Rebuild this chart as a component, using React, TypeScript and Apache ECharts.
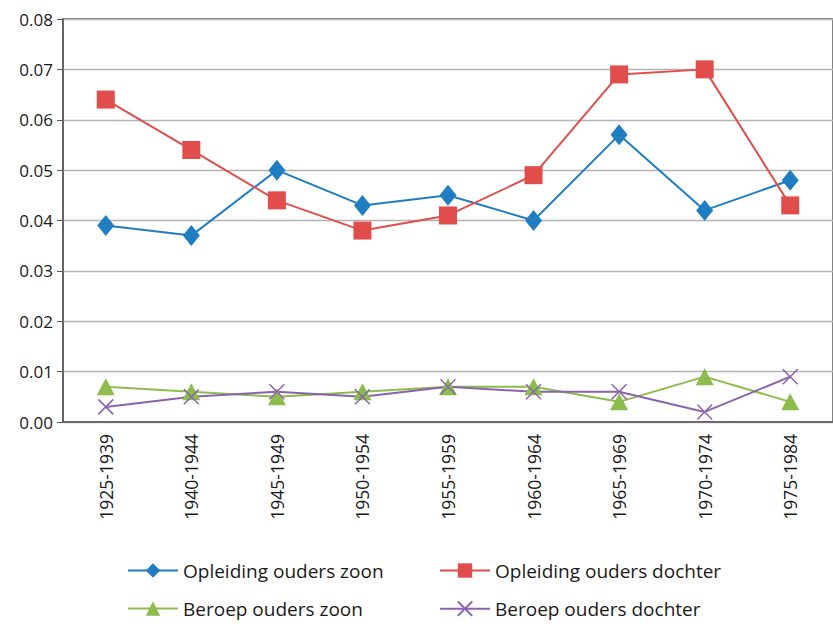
import React, { useEffect, useRef } from "react";
import * as echarts from "echarts";

const categories = ["1925-1939", "1940-1944", "1945-1949", "1950-1954", "1955-1959", "1960-1964", "1965-1969", "1970-1974", "1975-1984"];
const opleidingZoon = [0.039, 0.037, 0.05, 0.043, 0.045, 0.04, 0.057, 0.042, 0.048];
const opleidingDochter = [0.064, 0.054, 0.044, 0.038, 0.041, 0.049, 0.069, 0.07, 0.043];
const beroepZoon = [0.007, 0.006, 0.005, 0.006, 0.007, 0.007, 0.004, 0.009, 0.004];
const beroepDochter = [0.003, 0.005, 0.006, 0.005, 0.007, 0.006, 0.006, 0.002, 0.009];
const seriesNames = ["Opleiding ouders zoon", "Opleiding ouders dochter", "Beroep ouders zoon", "Beroep ouders dochter"];

const BLUE = "#1f7dc1";
const RED = "#e04d4a";
const GREEN = "#8cbd4c";
const PURPLE = "#8b63ad";
const FONT = "'Open Sans', 'Noto Sans', sans-serif";
const CROSS = "path://M0,0L10,10M10,0L0,10";

export default function App() {
  const ref = useRef<HTMLDivElement>(null);
  useEffect(() => {
    if (!ref.current) return;
    const chart = echarts.init(ref.current, undefined, { renderer: "svg" });
    const legendText = { fontSize: 19, color: "#1a1a1a", fontFamily: FONT };
    const mkLegend = (name: string, left: number, top: number) => ({
      data: [name],
      left,
      top,
      itemWidth: 50,
      itemHeight: 18,
      itemGap: 0,
      padding: 0,
      textStyle: legendText,
      selectedMode: false,
    });
    chart.setOption({
      animation: false,
      backgroundColor: "#ffffff",
      grid: { left: 63, top: 19, width: 775, bottom: 202, containLabel: false, show: true, borderColor: "#5a5a5a", borderWidth: 1.5 },
      legend: [
        mkLegend(seriesNames[0], 127, 561),
        mkLegend(seriesNames[1], 439, 561),
        mkLegend(seriesNames[2], 127, 599),
        mkLegend(seriesNames[3], 439, 599),
      ],
      xAxis: {
        type: "category",
        data: categories,
        boundaryGap: true,
        axisLine: { lineStyle: { color: "#5a5a5a", width: 1.5 } },
        axisTick: { show: false },
        axisLabel: { rotate: 90, fontSize: 17.5, color: "#1a1a1a", fontFamily: FONT, margin: 12 },
      },
      yAxis: {
        type: "value",
        min: 0,
        max: 0.08,
        interval: 0.01,
        axisLine: { show: true, lineStyle: { color: "#5a5a5a", width: 1.5 } },
        axisTick: { show: true, length: 6, lineStyle: { color: "#5a5a5a" } },
        axisLabel: { fontSize: 17, color: "#1a1a1a", fontFamily: FONT, margin: 10, formatter: (v: number) => v.toFixed(2) },
        splitLine: { lineStyle: { color: "#b3b3b3", width: 1.3 } },
      },
      series: [
        {
          name: seriesNames[0],
          type: "line",
          data: opleidingZoon,
          symbol: "diamond",
          symbolSize: [17, 21],
          lineStyle: { color: BLUE, width: 2 },
          itemStyle: { color: BLUE },
        },
        {
          name: seriesNames[1],
          type: "line",
          data: opleidingDochter,
          symbol: "rect",
          symbolSize: 18,
          lineStyle: { color: RED, width: 2 },
          itemStyle: { color: RED },
        },
        {
          name: seriesNames[2],
          type: "line",
          data: beroepZoon,
          symbol: "triangle",
          symbolSize: [18, 17],
          lineStyle: { color: GREEN, width: 2 },
          itemStyle: { color: GREEN },
        },
        {
          name: seriesNames[3],
          type: "line",
          data: beroepDochter,
          symbol: CROSS,
          symbolSize: 15,
          lineStyle: { color: PURPLE, width: 2 },
          itemStyle: { color: "none", borderColor: PURPLE, borderWidth: 1.5 },
        },
      ],
    });
    return () => chart.dispose();
  }, []);
  return <div ref={ref} style={{ width: 833, height: 624, position: "absolute", left: 0, top: 0 }} />;
}
